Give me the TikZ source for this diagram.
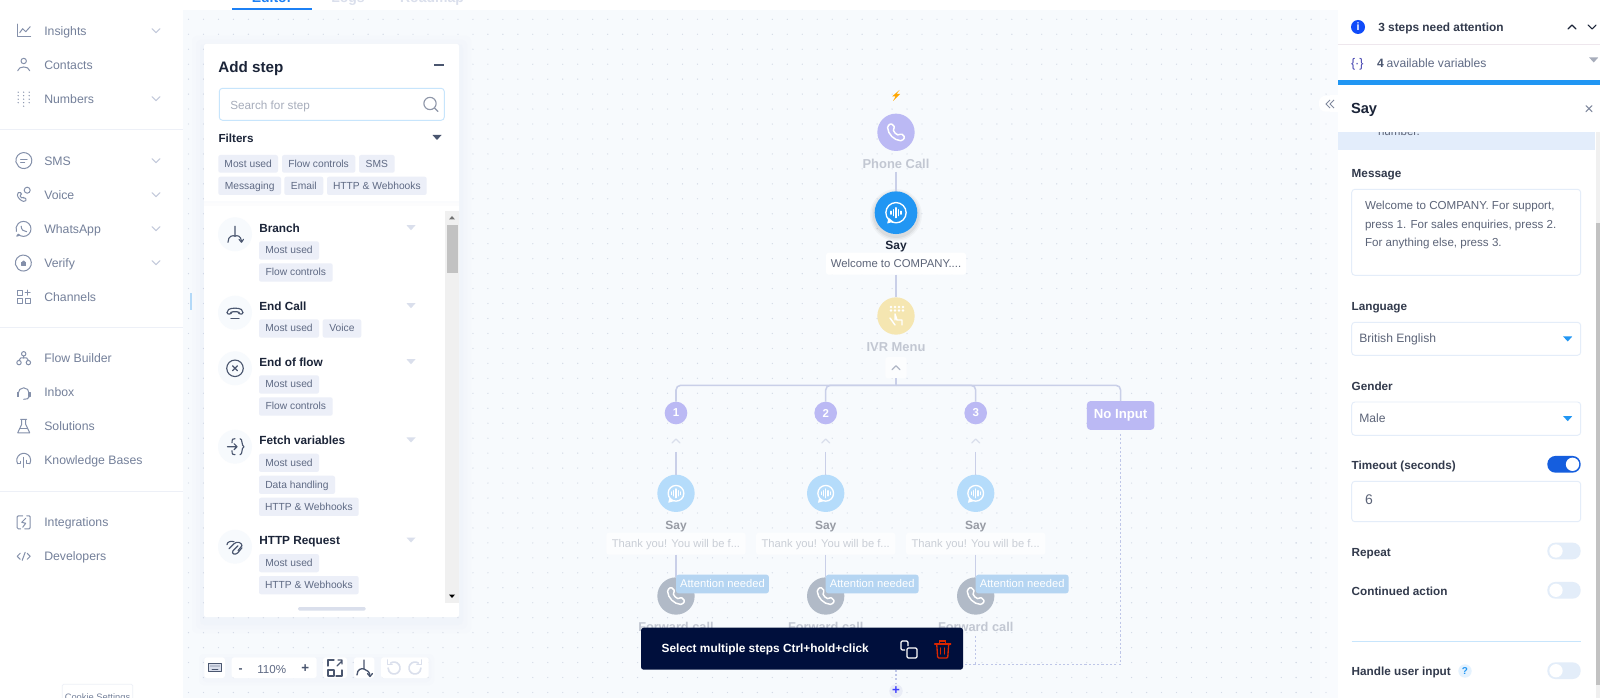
\documentclass[tikz,border=0pt]{standalone}
\usepackage{fontspec}
\setmainfont{Liberation Sans}
\usetikzlibrary{arrows.meta}
\definecolor{canvas}{HTML}{F7FAFD}
\definecolor{griddot}{HTML}{D3DAE6}
\definecolor{sidetxt}{HTML}{74809A}
\definecolor{sidecon}{HTML}{8490AA}
\definecolor{sideline}{HTML}{EDF0F7}
\definecolor{chev}{HTML}{C3CADB}
\definecolor{ink}{HTML}{1B2438}
\definecolor{chipbg}{HTML}{ECEFF8}
\definecolor{chiptxt}{HTML}{5F6A84}
\definecolor{listcon}{HTML}{4A566F}
\definecolor{tri}{HTML}{DADFEC}
\definecolor{conn}{HTML}{C9CFE8}
\definecolor{dashc}{HTML}{BEC6E8}
\definecolor{violet}{HTML}{BBB9F4}
\definecolor{amber}{HTML}{F5E6B1}
\definecolor{saybl}{HTML}{2196F3}
\definecolor{paleb}{HTML}{B5DCFB}
\definecolor{slate}{HTML}{B1BAC7}
\definecolor{fade}{HTML}{C2C7D2}
\definecolor{attn}{HTML}{B5D5F2}
\definecolor{navy}{HTML}{000F3C}
\definecolor{fieldb}{HTML}{E4EDF9}
\definecolor{fieldt}{HTML}{5C6478}
\definecolor{tog}{HTML}{E3EDF9}
\definecolor{band}{HTML}{E3EDFB}
\tikzset{
  lab/.style={inner sep=0,outer sep=0,anchor=west,text height=.80em,text depth=.12em},
  ctr/.style={inner sep=0,outer sep=0,anchor=center,text height=.80em,text depth=.12em},
  fsz/.style={font=\fontsize{#1}{#1}\selectfont},
  bsz/.style={font=\fontsize{#1}{#1}\selectfont\bfseries},
  ic/.style={draw=sidecon,line width=.75pt,line cap=round,line join=round},
  lc/.style={draw=listcon,line width=.85pt,line cap=round,line join=round},
  wc/.style={draw=white,line width=1.1pt,line cap=round,line join=round},
  wire/.style={draw=conn,line width=1.15pt},
  dashwire/.style={draw=dashc,line width=1.1pt,dash pattern=on 1.6pt off 1.6pt},
  dotc/.style={circle,inner sep=0,outer sep=0},
  chipbox/.style={inner sep=0,outer sep=0,fill=chipbg,rounded corners=1.6pt,text=chiptxt,fsz=7.7,text height=.72em,text depth=.2em},
  field/.style={inner sep=0,outer sep=0,fill=white,draw=fieldb,line width=.7pt,rounded corners=2.4pt},
}
\newcommand{\bx}[6][]{\node[inner sep=0,outer sep=0,minimum width={(#4-#2)*0.75pt},minimum height={(#5-#3)*0.75pt},#1] (#6) at ({(#2+#4)/2},{(#3+#5)/2}) {};}
\newcommand{\chip}[6]{\node[chipbox,minimum width={(#4-#2)*0.75pt},minimum height={(#5-#3)*0.75pt}] (#1) at ({(#2+#4)/2},{(#3+#5)/2}) {#6};}
\newcommand{\ico}[4][]{\begin{scope}[shift={(#2,#3)},#1] #4 \end{scope}}
\newcommand{\chevd}[3]{\draw[#3,line width=.8pt,line cap=round,line join=round] (#1-4,#2-2) -- (#1,#2+2) -- (#1+4,#2-2);}
\newcommand{\chevu}[3]{\draw[#3,line width=.9pt,line cap=round,line join=round] (#1-4,#2+2) -- (#1,#2-2) -- (#1+4,#2+2);}
\newcommand{\trid}[3]{\fill[#3] (#1-4.5,#2-2.5) -- (#1+4.5,#2-2.5) -- (#1,#2+2.5) -- cycle;}
\newcommand{\phoneic}[2]{\ico{#1}{#2}{\draw[wc,rounded corners=1pt] (-5,-9) -- (-8.5,-6) .. controls (-8,2) and (-2,8) .. (6,8.5) -- (9,5) -- (5,1) -- (3,3) .. controls (0,2) and (-2,0) .. (-3,-3) -- (-1,-5) -- cycle;}}
\newcommand{\sayic}[3]{\ico[scale=#3]{#1}{#2}{\draw[wc,line width=1pt] (0,0) circle (7.6*#3 pt); \fill[white] (-7.5,5) -- (-8.8,10.8) -- (-2.5,9) -- cycle; \foreach \xx/\hh in {-5/1.5,-2.5/3,0/5,2.5/3,5/1.5}{\draw[wc,line width=.9pt] (\xx,-\hh) -- (\xx,\hh);}}}
\newcommand{\toggleoff}[2]{\node[inner sep=0,outer sep=0,fill=tog,rounded corners=6pt,minimum width=25pt,minimum height=12.5pt] (#1) at (1564,#2) {}; \fill[white] (1556,#2) circle (5pt);}
\begin{document}
\begin{tikzpicture}[x=0.75pt,y=-0.75pt]
\useasboundingbox (0,0) rectangle (1600,698);
\clip (0,0) rectangle (1600,698);
\fill[white] (0,0) rectangle (1600,698);
% canvas and its dots
\fill[canvas] (183,10) rectangle (1340,698);
\foreach \i in {0,...,75}{\foreach \j in {0,...,45}{\fill[griddot] ({188.5+14.97*\i},{19.3+14.96*\j}) circle (.5pt);}}
% tabs (cut by the top edge)
\begin{scope}
\clip (183,0) rectangle (600,8.5);
\node[ctr,bsz=10.5,text=saybl!85!blue] (tabeditor) at (272,-2.5) {Editor};
\node[ctr,bsz=10.5,text=tri] (tablogs) at (348,-2.5) {Logs};
\node[ctr,bsz=10.5,text=tri] (tabroad) at (432,-2.5) {Roadmap};
\end{scope}
\fill[saybl!85!blue] (232,8.3) rectangle (312,9.8);
% sidebar
\fill[white] (0,0) rectangle (183,698);
\foreach \yy in {129.3,327.3,491.7}{\draw[sideline,line width=.75pt] (0,\yy) -- (183,\yy);}
\fill[chev!20!saybl!40!white] (190,293) rectangle (192,310);
\foreach \nm/\yy/\tt in {insights/30.7/Insights,contacts/64.7/Contacts,numbers/98.7/Numbers,sms/160.7/SMS,voice/194.7/Voice,whatsapp/228.7/WhatsApp,verify/262.7/Verify,channels/296.7/Channels,flowb/358.3/Flow Builder,inbox/392.3/Inbox,solutions/426.3/Solutions,knowledge/460.3/Knowledge Bases,integr/522.3/Integrations,develop/556.3/Developers}{
  \node[lab,fsz=9.2,text=sidetxt] (\nm) at (44.3,\yy) {\tt};}
\foreach \yy in {30.7,98.7,160.7,194.7,228.7,262.7}{\chevd{156}{\yy}{chev}}
\ico{23.7}{30.7}{\draw[ic] (-6.5,-6.5) -- (-6.5,6) -- (7,6); \draw[ic] (-4,2) -- (-1,-2) -- (2,1) -- (6.5,-4);}
\ico{23.7}{64.7}{\draw[ic] (0,-3.7) circle (2.7*.75pt); \draw[ic] (-6,6) .. controls (-5,1) and (5,1) .. (6,6);}
\ico{23.7}{98.7}{\foreach \xx in {-5.5,0,5.5}{\foreach \yy in {-6.5,-3,.5,4}{\fill[sidecon] (\xx,\yy) circle (.55pt);}} \fill[sidecon] (0,7.5) circle (.55pt);}
\ico{23.7}{160.7}{\draw[ic] (-5,6) arc[start angle=-130,end angle=190,radius=8*.75pt] -- cycle; \draw[ic] (-3,-1.5) -- (3.5,-1.5); \draw[ic] (-3,1.8) -- (1,1.8);}
\ico{23.7}{194.7}{\draw[ic,rounded corners=1pt] (-4,-3) -- (-6.5,-1) .. controls (-6,3) and (-3,6) .. (1,7) -- (3,5) -- (.5,2.5) -- (-1,3.5) .. controls (-2.5,3) and (-3.5,1) .. (-3,0) -- (-2,-1) -- cycle; \draw[ic] (3.5,-4.5) circle (3*.75pt);}
\ico{23.7}{228.7}{\draw[ic] (-5.5,5.5) arc[start angle=-135,end angle=200,radius=7.5*.75pt]; \draw[ic] (-5.5,5.5) -- (-7,7.5) -- (-4,6.5); \draw[ic] (-2.5,-2.5) .. controls (-2.5,1) and (0,3) .. (3,3);}
\ico{23.7}{262.7}{\draw[ic] (-5.5,6.5) arc[start angle=-130,end angle=190,radius=8*.75pt] -- cycle; \draw[ic,fill=sidecon] (-2,-.5) rectangle (2,3); \draw[ic] (-1.2,-.5) arc[start angle=180,end angle=0,radius=.9pt];}
\ico{23.7}{296.7}{\draw[ic] (-6.5,-6.5) rectangle (-1.5,-1.5); \draw[ic] (-6.5,1.5) rectangle (-1.5,6.5); \draw[ic] (1.5,1.5) rectangle (6.5,6.5); \draw[ic] (4,-6.5) -- (4,-1.5); \draw[ic] (1.5,-4) -- (6.5,-4);}
\ico{23.7}{358.3}{\draw[ic] (0,-4.5) circle (2.2*.75pt); \draw[ic] (-4.7,4.3) circle (2.2*.75pt); \draw[ic] (4.7,4.3) circle (2.2*.75pt); \draw[ic] (0,-2.3) -- (0,0) (-4.7,2.1) -- (-3,-.3) -- (3,-.3) -- (4.7,2.1);}
\ico{23.7}{392.3}{\draw[ic] (-5.5,1) arc[start angle=180,end angle=0,radius=5.5*.75pt]; \draw[ic,fill=sidecon] (-6.5,.5) rectangle (-5,4.5); \draw[ic,fill=sidecon] (5,.5) rectangle (6.5,4.5); \draw[ic] (5.5,4.5) .. controls (5,6.5) and (3,7) .. (0,7);}
\ico{23.7}{426.3}{\draw[ic] (-3,-7) -- (3,-7) (-2,-7) -- (-2,-2) -- (-6,6.5) -- (6,6.5) -- (2,-2) -- (2,-7); \draw[ic] (-4,2.5) -- (4,2.5);}
\ico{23.7}{460.3}{\draw[ic] (-6,3.5) arc[start angle=210,end angle=-30,radius=7*.75pt]; \draw[ic] (-6,3.5) -- (-3,3.5) -- (-3,1) (6,3.5) -- (3,3.5) -- (3,0); \draw[ic] (0,-3) -- (0,7);}
\ico{23.7}{522.3}{\draw[ic,rounded corners=.8pt] (-1,-6.5) -- (-6.5,-6.5) -- (-6.5,6.5) -- (-3,6.5); \draw[ic,rounded corners=.8pt] (1,6.5) -- (6.5,6.5) -- (6.5,-6.5) -- (3,-6.5); \draw[ic] (2,-4) -- (-2,0) -- (2,1) -- (-1,5);}
\ico{23.7}{556.3}{\draw[ic] (-3.5,-3) -- (-6.5,0) -- (-3.5,3) (3.5,-3) -- (6.5,0) -- (3.5,3) (1.5,-4) -- (-1.5,4);}
\node[inner sep=0,outer sep=0,draw=sideline,line width=.5pt,fill=white,minimum width=52.8pt,minimum height=22.5pt,rounded corners=1pt] (cookiebox) at (97.5,699.3) {};
\node[ctr,fsz=7,text=sidetxt] (cookie) at (97.5,695.7) {Cookie Settings};
% add step panel
\foreach \gr/\op in {12/.03,8/.04,4/.05}{\fill[conn,opacity=\op,rounded corners=3pt] (204-\gr,44-\gr+4) rectangle (459+\gr,617+\gr+4);}
\bx[fill=white,rounded corners=1.5pt]{204}{44}{459}{617}{addpanel}
\node[lab,bsz=11.4,text=ink] (addstep) at (218.3,68) {Add step};
\draw[listcon,line width=.95pt] (434,65) -- (444,65);
\bx[draw=saybl!25!white,line width=.7pt,fill=white,rounded corners=2.4pt]{219.3}{88.3}{444.3}{120.3}{searchbox}
\node[lab,fsz=8.8,text=chiptxt!55!white] (searchtxt) at (230.3,104.5) {Search for step};
\ico{430}{103.5}{\draw[draw=chiptxt!70!white,line width=.85pt] (0,0) circle (4.6pt); \draw[draw=chiptxt!70!white,line width=.85pt,line cap=round] (4.5,4.5) -- (8,8);}
\node[lab,bsz=8.75,text=ink] (filters) at (218.5,137.5) {Filters};
\trid{437}{137.5}{listcon}
\chip{fa}{218.3}{155}{278}{172.7}{Most used}
\chip{fb}{282}{155}{355.3}{172.7}{Flow controls}
\chip{fc}{359}{155}{394.7}{172.7}{SMS}
\chip{fd}{218.3}{176.7}{281}{195}{Messaging}
\chip{fe}{284.3}{176.7}{323.3}{195}{Email}
\chip{ff}{327}{176.7}{426.7}{195}{HTTP \& Webhooks}
\fill[conn,opacity=.08] (204,201.5) rectangle (459,203);
\fill[conn,opacity=.05] (204,203) rectangle (459,206);
% list circles, titles, triangles
\foreach \nm/\yy/\ty/\tt in {branch/234.3/227.7/Branch,endcall/312.7/305.7/End Call,endflow/368.3/361.7/End of flow,fetch/446.7/440/Fetch variables,http/546.7/540/HTTP Request}{
  \node[dotc,fill=canvas,minimum size=25.5pt] (\nm c) at (235,\yy) {};
  \node[lab,bsz=8.85,text=ink] (\nm t) at (259.3,\ty) {\tt};
  \trid{411}{\ty}{tri}}
\chip{a1}{259}{241.3}{319}{259.7}{Most used}
\chip{a2}{259}{263.3}{332.7}{281.7}{Flow controls}
\chip{b1}{259}{319.3}{319}{337.7}{Most used}
\chip{b2}{322.7}{319.3}{361.3}{337.7}{Voice}
\chip{c1}{259}{375.3}{319}{393.7}{Most used}
\chip{c2}{259}{397.3}{332.7}{415.7}{Flow controls}
\chip{d1}{259}{453.7}{319}{472}{Most used}
\chip{d2}{259}{475.7}{335}{494}{Data handling}
\chip{d3}{259}{497.7}{358.7}{516}{HTTP \& Webhooks}
\chip{e1}{259}{554}{319}{572.3}{Most used}
\chip{e2}{259}{576}{358.7}{594.3}{HTTP \& Webhooks}
\ico{235}{234.3}{\draw[lc] (0,-8) -- (0,2) (-7,8) .. controls (-7,1.5) and (-2,.5) .. (0,2) .. controls (2,.5) and (6,1.5) .. (6.5,7); \draw[lc] (4,5) -- (6.5,8) -- (8.5,5);}
\ico{235}{312.7}{\draw[lc,rounded corners=1.5pt] (-8,1.5) -- (-8,-2) .. controls (-4,-5) and (4,-5) .. (8,-2) -- (8,1.5) -- (4,1.5) -- (4,-1) -- (-4,-1) -- (-4,1.5) -- cycle; \draw[lc] (-4,6) -- (4,6);}
\ico{235}{368.3}{\draw[lc] (0,0) circle (6.2pt); \draw[lc] (-2.5,-2.5) -- (2.5,2.5) (-2.5,2.5) -- (2.5,-2.5);}
\ico{235}{446.7}{\draw[lc] (-7.5,0) -- (2,0) (-1,-3) -- (2,0) -- (-1,3); \draw[lc] (-3,-4) .. controls (-3,-8) and (-2,-8) .. (0,-8); \draw[lc] (-3,4) .. controls (-3,8) and (-2,8) .. (0,8); \draw[lc] (5,-8) .. controls (8,-8) and (6,-1) .. (9,0) .. controls (6,1) and (8,8) .. (5,8);}
\ico{235}{546.7}{\draw[lc] (-8,-2) .. controls (-8,-5) and (-4,-6) .. (-1,-5); \draw[lc] (-6,2) -- (-1,-3) .. controls (2,-6) and (7,-4) .. (7,-1) -- (3,4); \draw[lc] (3,-1) -- (-2,4) .. controls (-4,7) and (0,9) .. (3,6) -- (7,1);}
% scrollbar and handle
\fill[black!6] (445,211) rectangle (459,603);
\fill[black!24] (446.7,225) rectangle (458,272.7);
\fill[black!55] (449,219.5) -- (455,219.5) -- (452,216) -- cycle;
\fill[black] (449,594.5) -- (455,594.5) -- (452,598) -- cycle;
\fill[tri,rounded corners=1pt] (298,607) rectangle (365.7,610.5);
% canvas toolbar
\foreach \gr/\op in {5/.03,2/.04}{\fill[conn,opacity=\op,rounded corners=3pt] (204-\gr,657-\gr+2) rectangle (429+\gr,678+\gr+2);}
\bx[fill=white,rounded corners=2pt]{204.3}{657.3}{225}{678}{tkeys}
\bx[fill=white,rounded corners=2pt]{231.7}{657.3}{316.7}{678}{tzoom}
\bx[fill=white,rounded corners=2pt]{323}{657.3}{347}{678}{tfit}
\bx[fill=white,rounded corners=2pt]{354}{657.3}{374.3}{678}{tbranch}
\bx[fill=white,rounded corners=2pt]{381}{657.3}{428.7}{678}{tundo}
\ico{215}{667.5}{\draw[lc,fill=tri] (-6.5,-4) rectangle (6.5,4); \foreach \xx in {-4,-2,0,2,4}{\fill[listcon] (\xx,-1.5) circle (.5pt);} \draw[lc,line width=.6pt] (-3,1.5) -- (3,1.5);}
\node[ctr,bsz=9,text=listcon] (zminus) at (240.7,667.7) {-};
\node[ctr,fsz=8.7,text=chiptxt] (zpct) at (271.7,668.7) {110\%};
\node[ctr,bsz=10,text=listcon] (zplus) at (305.3,667.7) {+};
\ico{335}{668}{\draw[lc,line width=1pt] (-7,-2) -- (-7,-8) -- (-1,-8) (1,8) -- (7,8) -- (7,2); \draw[lc,line width=1pt] (-7,2) rectangle (-1,8); \draw[lc,line width=1pt] (2,-2) -- (7,-7) (3,-8) -- (7,-8) -- (7,-4);}
\ico{364}{668}{\draw[lc,line width=1pt] (0,-8) -- (0,1) (-7,7) .. controls (-7,1) and (-2,0) .. (0,1) .. controls (3,2) and (6,4) .. (6,8); \draw[lc,line width=1pt] (3.5,5.5) -- (6,8.5) -- (8.5,5.5);}
\ico{394}{668}{\draw[draw=tri,line width=1.2pt,line cap=round] (-3.4,-4.9) arc[start angle=125,end angle=-180,radius=4.5pt]; \draw[draw=tri,line width=1.2pt,line cap=round,line join=round] (-6.5,-8) -- (-6.5,-3.5) -- (-2,-3.5);}
\ico{415}{668}{\draw[draw=tri,line width=1.2pt,line cap=round] (3.4,-4.9) arc[start angle=55,end angle=360,radius=4.5pt]; \draw[draw=tri,line width=1.2pt,line cap=round,line join=round] (6.5,-8) -- (6.5,-3.5) -- (2,-3.5);}
% flow: nodes
\fill[orange!70!yellow] (899.5,90) -- (892,96.5) -- (895.5,96.5) -- (893,101) -- (900,94) -- (896.5,94) -- cycle;
\node[dotc,fill=violet,minimum size=28pt] (phone) at (896,132.3) {};
\node[ctr,bsz=9.7,text=fade,minimum height=12pt] (phonetxt) at (896,163.7) {Phone Call};
\foreach \op/\rr in {.03/26,.04/24.5,.05/23}{\fill[black,opacity=\op] (896,215) circle (\rr*.75pt);}
\node[dotc,fill=saybl,minimum size=32pt] (mainsay) at (896,212.7) {};
\node[ctr,bsz=9,text=ink] (mainsaytxt) at (896,244.7) {Say};
\node[inner sep=0,outer sep=0,fill=white,rounded corners=2pt,minimum width=105pt,minimum height=16.5pt,fsz=8.5,text=fieldt,text height=.72em,text depth=.2em] (mainlabel) at (896,263.7) {Welcome to COMPANY....};
\node[dotc,fill=amber,minimum size=28pt] (ivr) at (896,316) {};
\node[ctr,bsz=9.7,text=fade] (ivrtxt) at (896,347.3) {IVR Menu};
\node[inner sep=0,outer sep=0,fill=white!60!canvas,rounded corners=2pt,minimum size=16pt] (ivrchev) at (896,367.7) {};
\chevu{896}{367.7}{chev!90!black}
\coordinate (busc) at (896,385.3);
\node[dotc,fill=violet,minimum size=17pt,bsz=8.6,text=white] (n1) at (676,413) {1};
\node[dotc,fill=violet,minimum size=17pt,bsz=8.6,text=white] (n2) at (825.7,413) {2};
\node[dotc,fill=violet,minimum size=17pt,bsz=8.6,text=white] (n3) at (975.7,413) {3};
\node[inner sep=0,outer sep=0,fill=violet,rounded corners=2.5pt,minimum width=50.5pt,minimum height=21.5pt,bsz=9.9,text=white] (noinput) at (1120.6,415.5) {No Input};
\foreach \k/\xx in {1/676,2/825.7,3/975.7}{
  \node[inner sep=0,outer sep=0,minimum width=16pt,minimum height=16.5pt] (ch\k) at (\xx,441) {};
  \chevu{\xx}{441}{tri}
  \node[dotc,fill=paleb,minimum size=28pt] (s\k) at (\xx,493.3) {};
  \node[ctr,bsz=9,text=black!22!fade] (st\k) at (\xx,524.7) {Say};
  \node[inner sep=0,outer sep=0,fill=white!60!canvas,rounded corners=2pt,minimum width=104.5pt,minimum height=16.5pt,fsz=8.4,text=black!3!fade!80!white,text height=.72em,text depth=.2em] (sl\k) at (\xx,543.7) {Thank you! You will be f...};
  \node[dotc,fill=slate,minimum size=28pt] (fw\k) at (\xx,596) {};
  \node[ctr,bsz=9.6,text=fade,minimum height=13pt] (ft\k) at (\xx,627.3) {Forward call};
}
% flow: connectors
\draw[wire] (phonetxt.south) -- (mainsay.north);
\draw[wire] (mainlabel.south) -- (ivr.north);
\draw[wire] (ivrchev.south) -- (busc);
\draw[wire,rounded corners=3.5pt] (busc) -| (n1.north);
\draw[wire,rounded corners=3.5pt] (busc) -| (n2.north);
\draw[wire,rounded corners=3.5pt] (busc) -| (n3.north);
\draw[wire,rounded corners=3.5pt] (busc) -| (noinput.north);
\foreach \k in {1,2,3}{
  \draw[wire] (ch\k.south) -- (s\k.north);
  \draw[wire] (sl\k.south) -- (fw\k.north);
}
\coordinate (joinb) at (1120.6,664.3);
\coordinate (joinm) at (896,664.3);
\draw[dashwire] ([yshift=-3pt]noinput.south) -- (joinb) -- (joinm);
\draw[dashwire] (ft3.south) -- (975.7,664.3);
\phoneic{896}{132.3}
\sayic{896}{212.7}{1}
\sayic{676}{493.3}{.88}\sayic{825.7}{493.3}{.88}\sayic{975.7}{493.3}{.88}
\phoneic{676}{596}\phoneic{825.7}{596}\phoneic{975.7}{596}
\ico{896}{316}{\foreach \xx in {-5,-1,3,7}{\foreach \yy in {-9,-5.5}{\fill[white] (\xx,\yy) circle (1pt);}} \draw[wc] (-1,9) -- (-6,2) (-1,4) -- (-1,-2) -- (1,4) -- (6,4) -- (6,9);}
\foreach \k/\xx in {1/676,2/825.7,3/975.7}{
  \node[inner sep=0,outer sep=0,fill=attn,rounded corners=2pt,minimum width=69.7pt,minimum height=14pt,fsz=8.4,text=white,text height=.72em,text depth=.2em] (att\k) at ({\xx+46.5},584) {Attention needed};
}
% action bar
\bx[fill=navy,rounded corners=2pt]{641}{627.7}{963}{669.7}{bar}
\node[lab,bsz=8.9,text=white] (bartxt) at (661.7,648.2) {Select multiple steps Ctrl+hold+click};
\ico{909}{649}{\draw[white,line width=.9pt,rounded corners=1pt] (-2,-1) rectangle (8,9); \draw[white,line width=.9pt,rounded corners=1pt] (-1,-3) -- (-1,-8) -- (-8,-8) -- (-8,1) -- (-4,1);}
\ico{942.7}{649}{\draw[draw=red!65!orange!85!black,line width=1pt,rounded corners=.8pt] (-6,-5) -- (-5,9) -- (5,9) -- (6,-5); \draw[draw=red!65!orange!85!black,line width=1pt,line cap=round] (-8,-5) -- (8,-5) (-3,-5) -- (-3,-8) -- (3,-8) -- (3,-5) (-2,-1) -- (-2,5) (2,-1) -- (2,5);}
\draw[dashwire] (bar.south -| busc) -- (896,684);
\node[dotc,fill=conn!40!white,minimum size=10pt] (addbtn) at (896,691) {};
\node[ctr,bsz=10,text=blue!75!white] (addplus) at (896,690) {+};
% right panel
\fill[canvas!70!white] (1320,10) rectangle (1338,698);
\foreach \yy in {19.3,34.26,...,698}{\foreach \xx in {1296,1311,1326}{\fill[griddot] (\xx,\yy) circle (.5pt);}}
\fill[white] (1337.7,0) rectangle (1600,698);
\fill[white] (1320.7,0) rectangle (1338,10);
\node[dotc,fill=blue!50!saybl,minimum size=10.5pt,bsz=8,text=white] (infoi) at (1358,27) {i};
\node[lab,bsz=8.9,text=ink!90!white] (attn3) at (1378.3,27) {3 steps need attention};
\chevu{1572}{27}{ink}\chevd{1592}{27}{ink}
\draw[red!4!sideline,line width=.9pt] (1337.7,44.8) -- (1600,44.8);
\node[ctr,fsz=9.4,text=violet!50!blue!70!black] (curly) at (1357.3,62.7) {\{·\}};
\node[lab,bsz=9.1,text=listcon] (four) at (1377,63) {4};
\node[lab,fsz=9.1,text=chiptxt] (avail) at (1386.7,63) {available variables};
\trid{1593.7}{60}{chiptxt!55!white}
% body under the header
\fill[band] (1337.7,125) rectangle (1595,150);
\node[lab,fsz=8.7,text=fieldt] (numberw) at (1378,131.3) {number.};
\fill[white] (1337.7,85) rectangle (1600,132);
\fill[saybl] (1337.7,80) rectangle (1600,85);
\node[inner sep=0,outer sep=0,fill=white,rounded corners=5pt,minimum width=18pt,minimum height=12pt] (collapse) at (1331,103.7) {};
\fill[white] (1330,95) rectangle (1338,112);
\node[lab,bsz=11,text=ink] (saytitle) at (1351,108.7) {Say};
\draw[chiptxt!80!white,line width=.8pt,line cap=round] (1586,105.7) -- (1592,111.7) (1586,111.7) -- (1592,105.7);
\draw[chiptxt!80!white,line width=.6pt] (1330,100) -- (1326,104) -- (1330,108) (1334,100) -- (1330,104) -- (1334,108);
\fill[black!6] (1595.5,132) rectangle (1600,698);
\fill[black!24] (1595.5,223) rectangle (1600,685);
\node[lab,bsz=8.8,text=ink!90!white] (msg) at (1351.7,173.3) {Message};
\bx[field]{1351.7}{189.3}{1580.7}{275.3}{msgbox}
\node[lab,fsz=8.7,text=fieldt] (m1) at (1365,205) {Welcome to COMPANY. For support,};
\node[lab,fsz=8.7,text=fieldt] (m2) at (1365,223.7) {press 1. For sales enquiries, press 2.};
\node[lab,fsz=8.7,text=fieldt] (m3) at (1365,242.3) {For anything else, press 3.};
\node[lab,bsz=8.8,text=ink!90!white] (lang) at (1351.7,306) {Language};
\bx[field]{1351.7}{322.3}{1580.7}{355.3}{langbox}
\node[lab,fsz=9.1,text=fieldt] (langv) at (1359.3,338) {British English};
\trid{1567.7}{339}{saybl}
\node[lab,bsz=8.8,text=ink!90!white] (gender) at (1351.7,385.7) {Gender};
\bx[field]{1351.7}{402}{1580.7}{435.3}{genderbox}
\node[lab,fsz=9.1,text=fieldt] (genderv) at (1359.3,418.2) {Male};
\trid{1567.7}{418.7}{saybl}
\node[lab,bsz=8.8,text=ink!90!white] (timeout) at (1351.7,465.3) {Timeout (seconds)};
\node[inner sep=0,outer sep=0,fill=blue!30!saybl!90!black,rounded corners=6pt,minimum width=25pt,minimum height=12.5pt] (tgt) at (1564,464.3) {};
\fill[white] (1572.5,464.3) circle (5pt);
\bx[field]{1351.7}{481.3}{1580.7}{521.7}{timebox}
\node[ctr,fsz=10.5,text=fieldt] (timev) at (1369,500.3) {6};
\node[lab,bsz=8.8,text=ink!90!white] (repeat) at (1351.7,552) {Repeat};
\toggleoff{tgr}{551}
\node[lab,bsz=8.8,text=ink!90!white] (cont) at (1351.7,591) {Continued action};
\toggleoff{tgc}{590.3}
\draw[saybl!25!white,line width=.7pt] (1351.7,641.3) -- (1580.7,641.3);
\node[lab,bsz=8.8,text=ink!90!white] (handle) at (1351.7,671) {Handle user input};
\node[dotc,fill=saybl!12!white,minimum size=10pt,bsz=7.5,text=saybl] (helpq) at (1465,671) {?};
\toggleoff{tgh}{670.7}
\end{tikzpicture}
\end{document}
